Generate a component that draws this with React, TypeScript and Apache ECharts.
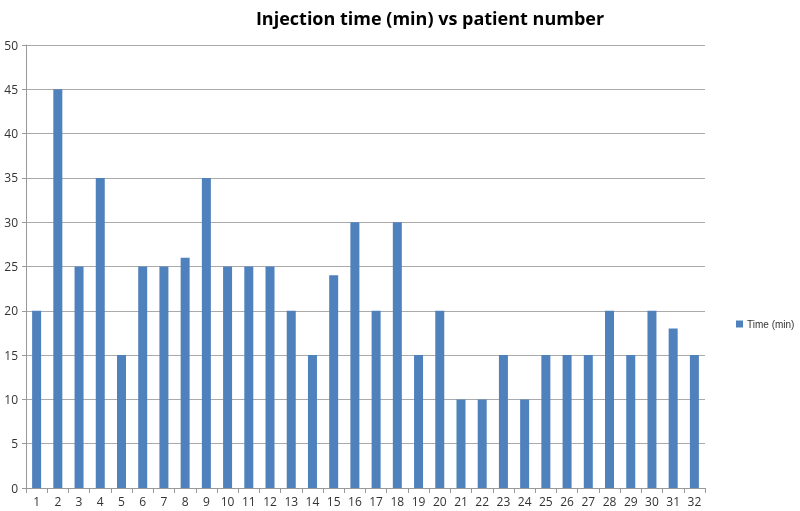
import React, { useEffect, useRef } from "react";
import * as echarts from "echarts";

const patients = Array.from({ length: 32 }, (_, i) => String(i + 1));
const times = [20, 45, 25, 35, 15, 25, 25, 26, 35, 25, 25, 25, 20, 15, 24, 30, 20, 30, 15, 20, 10, 10, 15, 10, 15, 15, 15, 20, 15, 20, 18, 15];
const seriesName = "Time (min)";
const titleText = "Injection time (min) vs patient number";

export default function App() {
  const ref = useRef<HTMLDivElement>(null);
  useEffect(() => {
    const chart = echarts.init(ref.current!, null, { renderer: "svg" });
    const font = "'Open Sans', 'Liberation Sans', sans-serif";
    chart.setOption({
      animation: false,
      title: {
        text: titleText,
        left: 425,
        top: 4,
        textAlign: "center",
        textStyle: { fontFamily: font, fontSize: 18, fontWeight: "bold", color: "#000" },
      },
      legend: {
        orient: "vertical",
        left: 736,
        top: 319,
        padding: 0,
        itemWidth: 7,
        itemHeight: 7,
        itemGap: 4,
        icon: "rect",
        textStyle: { fontFamily: "'Liberation Sans', Arial, sans-serif", fontSize: 10, color: "#333", padding: [0, 0, 0, -1] },
        data: [seriesName],
      },
      grid: { left: 26, right: 95, top: 45, bottom: 23 },
      xAxis: {
        type: "category",
        data: patients,
        boundaryGap: true,
        axisLine: { lineStyle: { color: "#999" } },
        axisTick: { show: true, alignWithLabel: false, length: 5, lineStyle: { color: "#999" } },
        axisLabel: { color: "#333", fontFamily: font, fontSize: 12, margin: 7, interval: 0 },
      },
      yAxis: {
        type: "value",
        min: 0,
        max: 50,
        interval: 5,
        axisLine: { show: true, lineStyle: { color: "#999" } },
        axisTick: { show: true, length: 4, lineStyle: { color: "#999" } },
        splitLine: { lineStyle: { color: "#aaa" } },
        axisLabel: { color: "#333", fontFamily: font, fontSize: 12, margin: 8 },
      },
      series: [
        {
          name: seriesName,
          type: "bar",
          data: times,
          barWidth: 9,
          itemStyle: { color: "#4f81bd" },
        },
      ],
    });
    return () => chart.dispose();
  }, []);
  return <div ref={ref} style={{ position: "fixed", left: 0, top: 0, width: 800, height: 511 }} />;
}
